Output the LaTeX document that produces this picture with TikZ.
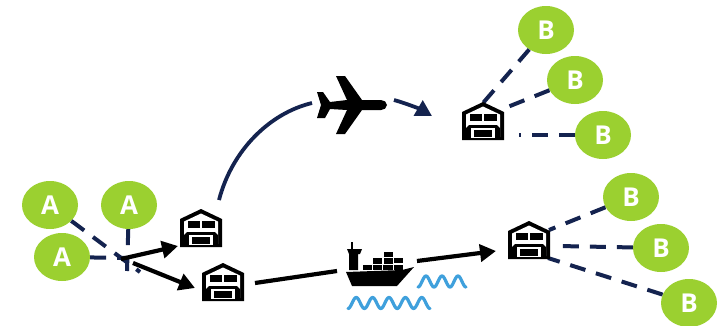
\documentclass[tikz,border=0pt]{standalone}
\usepackage{fontspec}
\setmainfont{Open Sans}
\usetikzlibrary{shapes.geometric,arrows.meta}
\definecolor{navy}{HTML}{14234F}
\definecolor{leaf}{HTML}{9BD030}
\definecolor{wave}{HTML}{3FA0DC}
\tikzset{
  site/.style={ellipse,fill=leaf,text=white,inner sep=0pt,minimum width=56pt,minimum height=48pt,font=\fontsize{26}{26}\selectfont\bfseries},
  dashline/.style={navy,line width=4pt,dash pattern=on 16pt off 11pt},
  bigarrow/.style={black,line width=4.2pt,-{Triangle[length=16pt,width=17pt]}},
  navyarrow/.style={navy,line width=3.8pt,-{Triangle[length=16pt,width=17pt]}},
  seaw/.style={wave,line width=3.2pt,line cap=round,line join=round},
  store/.pic={
    \fill[black] (-21,38) -- (-21,10) -- (0,0) -- (21,10) -- (21,38) -- cycle;
    \fill[white] (-17,35) -- (-17,12.5) -- (0,4.5) -- (17,12.5) -- (17,35) -- cycle;
    \fill[black] (-13.5,12) rectangle (-1,19);
    \fill[black] (1,12) rectangle (13.5,19);
    \fill[black] (-17,36) -- (-17,26) -- (-14,23) -- (14,23) -- (17,26) -- (17,36) -- cycle;
    \fill[white] (-12,26) rectangle (12,36);
    \fill[black] (-9,28) rectangle (9,35);
    \fill[black] (-21,35.5) rectangle (21,38);
  },
}
\begin{document}
\begin{tikzpicture}[x=1pt,y=-1pt]
\path[use as bounding box] (0,0) rectangle (718,325);

\node[site] (A1) at (50,205) {A};
\node[site] (A2) at (129,205) {A};
\node[site] (A3) at (62,257) {A};
\node[site] (B1) at (546,30) {B};
\node[site] (B2) at (575,80) {B};
\node[site] (B3) at (603,135) {B};
\node[site] (B4) at (631,197) {B};
\node[site] (B5) at (661,248) {B};
\node[site] (B6) at (689,303) {B};

\coordinate (hubA) at (140,272);
\coordinate (hubB) at (127,271);
\coordinate (hubC) at (127,258);
\coordinate (out1) at (121,259);
\coordinate (out2) at (133,263);
\coordinate (w1in) at (178,246);
\coordinate (w2in) at (195,288);
\coordinate (w1out) at (219,200);
\coordinate (planein) at (312,103);
\coordinate (planeout) at (394,100);
\coordinate (w3in) at (432,116);
\coordinate (w3a) at (483,103);
\coordinate (w3b) at (505,108);
\coordinate (w3c) at (519,135);
\coordinate (w4a) at (549,230);
\coordinate (w4b) at (558,246);
\coordinate (w4c) at (548,258);
\coordinate (w2out) at (255,283);
\coordinate (shipin) at (337,271);
\coordinate (shipout) at (417,261);
\coordinate (w4in) at (496,251);

\draw[dashline] (A1) -- (hubA);
\draw[dashline] (A2) -- (hubB);
\draw[dashline] (A3) -- (hubC);
\draw[dashline] (B1) -- (w3a);
\draw[dashline] (B2) -- (w3b);
\draw[dashline] (B3) -- (w3c);
\draw[dashline] (B4) -- (w4a);
\draw[dashline] (B5) -- (w4b);
\draw[dashline] (B6) -- (w4c);

\pic at (201,209) {store};
\pic at (223,263) {store};
\pic at (483,102) {store};
\pic at (529,221) {store};

\draw[bigarrow] (out1) -- (w1in);
\draw[bigarrow] (out2) -- (w2in);
\draw[navy,line width=3.8pt] (w1out) .. controls (232,150) and (270,113) .. (planein);
\draw[navyarrow] (planeout) .. controls (405,103) and (420,109) .. (w3in);
\draw[black,line width=4.2pt] (w2out) -- (shipin);
\draw[bigarrow] (shipout) -- (w4in);

% plane
\fill[black] (387,105) .. controls (387,102) and (384,100) .. (381,100) -- (362,100)
  -- (345,76) -- (336,76) -- (347,100) -- (330,102) -- (323,92) -- (317,92) -- (321,105)
  -- (317,118) -- (325,118) -- (330,109) -- (347,110) -- (336,134) -- (345,134) -- (362,110)
  -- (381,110) .. controls (384,110) and (387,108) .. (387,105) -- cycle;

% ship
\fill[black] (346,272) -- (402,270) -- (414,267) -- (397,286) -- (352,286) -- cycle;
\fill[black] (351,242) rectangle (353,250);
\fill[black] (347,249) -- (362,249) -- (360,254) -- (358,254) -- (358,270) -- (349,270) -- (349,254) -- cycle;
\fill[black] (363,265) rectangle (372,270);
\fill[black] (373,265) rectangle (382,270);
\fill[black] (383,265) rectangle (393,270);
\fill[black] (394,265) rectangle (403,270);
\fill[black] (373,258) rectangle (382,264);
\fill[black] (384,258) rectangle (393,264);
\fill[black] (394,258) rectangle (403,263);
\fill[black] (384,252) rectangle (393,257);

% waves
\draw[seaw] plot[domain=0:82,samples=120] ({348+\x},{303+5.5*cos(\x/16.4*360)});
\draw[seaw] plot[domain=0:48,samples=90] ({418+\x},{281.5+5.5*cos(\x/16*360)});
\end{tikzpicture}
\end{document}
